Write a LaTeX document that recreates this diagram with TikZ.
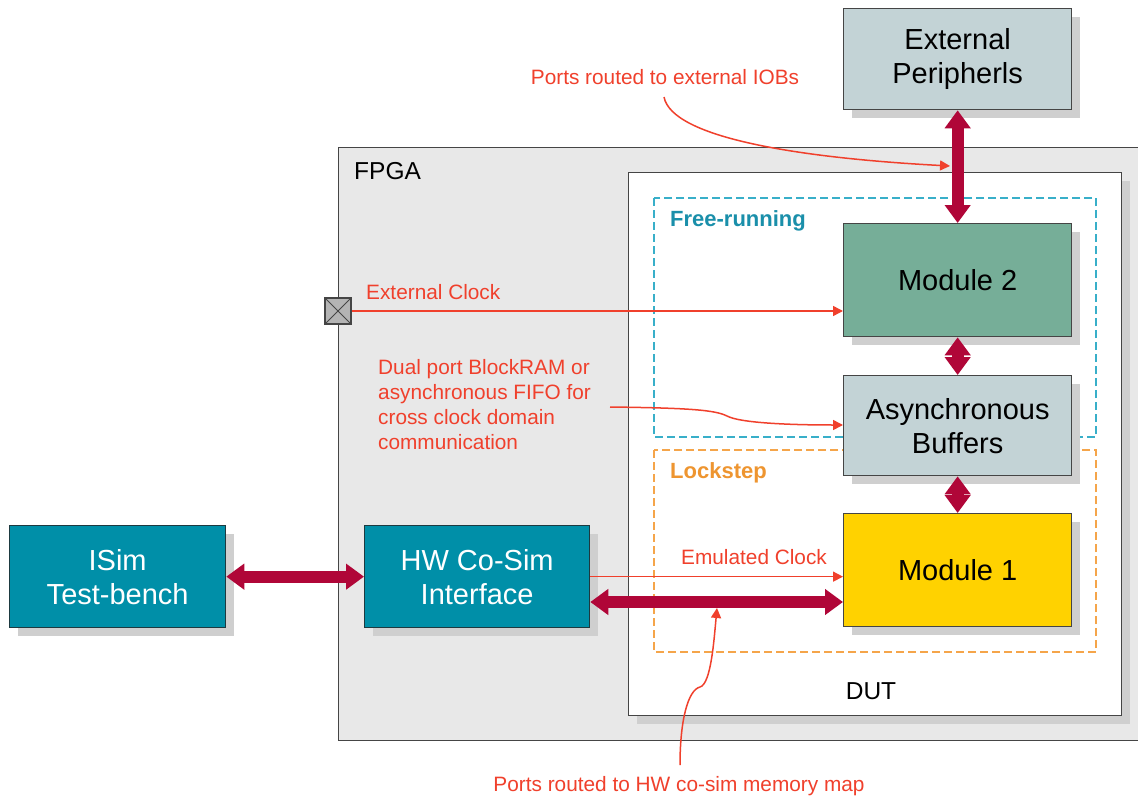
\documentclass[tikz,border=0pt]{standalone}
\usepackage{fontspec}
\setmainfont{Liberation Sans}
\usetikzlibrary{arrows.meta,shadows}
\definecolor{fpgafill}{HTML}{E8E8E8}
\definecolor{frame}{HTML}{454545}
\definecolor{shadowc}{HTML}{CFCFCF}
\definecolor{greyblue}{HTML}{C3D3D6}
\definecolor{modgreen}{HTML}{76AE98}
\definecolor{modyellow}{HTML}{FFD200}
\definecolor{teal}{HTML}{008FA8}
\definecolor{tealdark}{HTML}{1D3A40}
\definecolor{cyandash}{HTML}{38AFC9}
\definecolor{cyantext}{HTML}{1A8FAA}
\definecolor{orangedash}{HTML}{F5A54A}
\definecolor{orangetext}{HTML}{EE9530}
\definecolor{busc}{HTML}{B00638}
\definecolor{redc}{HTML}{F0402C}
\definecolor{portfill}{HTML}{B4B4B4}
\begin{document}
\begin{tikzpicture}[x=1pt,y=-1pt,
  shad/.style={drop shadow={shadow xshift=8pt,shadow yshift=-8pt,opacity=1,fill=shadowc}},
  blk/.style={draw=frame,line width=1.3pt,inner sep=0pt,align=center,
    font=\fontsize{29}{34}\selectfont,anchor=north west,shad},
  lightblk/.style={blk,fill=greyblue,text=black},
  tealblk/.style={blk,fill=teal,draw=tealdark,text=white},
  region/.style={line width=1.3pt,draw=frame,inner sep=0pt,anchor=north west},
  dashbox/.style={line width=1.4pt,dash pattern=on 8pt off 4pt},
  bigtxt/.style={font=\fontsize{24.5}{28}\selectfont,inner sep=0pt},
  grouptxt/.style={font=\bfseries\fontsize{22}{26}\selectfont,inner sep=0pt,anchor=west},
  redtxt/.style={text=redc,font=\fontsize{20.8}{25}\selectfont,inner sep=0pt,align=left},
  bus/.style={draw=busc,line width=12pt,{Triangle[length=18pt,width=25pt]}-{Triangle[length=18pt,width=25pt]}},
  redarr/.style={draw=redc,line width=1.5pt,-{Triangle[length=10pt,width=10pt]}}
]
\useasboundingbox (0,0) rectangle (1138,797);
\clip (0,0) rectangle (1138,797);
\fill[white] (0,0) rectangle (1138,797);

% FPGA region
\node[region,fill=fpgafill,minimum width=820pt,minimum height=593pt] (fpga) at (338,147) {};
\node[bigtxt,anchor=west] (fpgalbl) at (354,171) {FPGA};

% DUT region
\node[region,fill=white,minimum width=493pt,minimum height=543pt,shad] (dut) at (628,172) {};
\node[bigtxt] (dutlbl) at (871,691) {DUT};

% dashed groups
\draw[dashbox,draw=cyandash] (654,198) rectangle (1096,437);
\node[grouptxt,text=cyantext] (freelbl) at (670,221) {Free-running};
\draw[dashbox,draw=orangedash] (654,450) rectangle (1096,652);
\node[grouptxt,text=orangetext] (locklbl) at (670,473) {Lockstep};

% blocks
\node[lightblk,minimum width=228pt,minimum height=101pt] (ext) at (843,8) {External\\Peripherls};
\node[blk,fill=modgreen,minimum width=228pt,minimum height=113pt] (mod2) at (843,223) {Module 2};
\node[lightblk,minimum width=228pt,minimum height=100pt] (async) at (843,375) {Asynchronous\\Buffers};
\node[blk,fill=modyellow,minimum width=228pt,minimum height=113pt] (mod1) at (843,513) {Module 1};
\node[tealblk,minimum width=216pt,minimum height=102pt] (isim) at (9,525) {ISim\\Test-bench};
\node[tealblk,minimum width=225pt,minimum height=102pt] (hw) at (364,525) {HW Co-Sim\\Interface};

% port pad
\node[draw=frame,fill=portfill,line width=1.2pt,minimum size=26pt,inner sep=0pt] (port) at (338,311) {};
\draw[frame,line width=1pt] (port.north west) -- (port.south east) (port.north east) -- (port.south west);

% thick buses
\draw[bus] (ext.south) -- (mod2.north);
\draw[bus] (mod2.south) -- (async.north);
\draw[bus] (async.south) -- (mod1.north);
\draw[bus] (isim.east) -- (hw.west);
\coordinate (busmid) at (718,602);
\draw[bus] (hw.east |- busmid) -- (mod1.west |- busmid);

% clocks
\draw[redarr] (port.east) -- (mod2.west |- port.east);
\node[redtxt,anchor=west] (extclk) at (366,292) {External Clock};
\draw[redarr] (hw.east) -- (mod1.west |- hw.east);
\node[redtxt,anchor=west] (emuclk) at (681,557) {Emulated Clock};

% annotations
\node[redtxt] (iobs) at (665,77) {Ports routed to external IOBs};
\coordinate (iobsstart) at (664,97);
\coordinate (iobstip) at (950,166);
\draw[redarr] (iobsstart) .. controls (672,138) and (800,158) .. (iobstip);

\node[redtxt,anchor=north west] (dual) at (378,359) {Dual port BlockRAM or\\asynchronous FIFO for\\cross clock domain\\communication};
\coordinate (dualstart) at (610,407);
\draw[redarr] (dualstart) .. controls (690,408) and (715,410) .. (727,416)
  .. controls (740,423) and (790,425) .. (async.west |- 0,425);

\node[redtxt] (mem) at (679,786) {Ports routed to HW co-sim memory map};
\coordinate (memstart) at (680,765);
\coordinate (memtip) at (717,608);
\draw[redarr] (memstart) .. controls (680,720) and (688,690) .. (700,687)
  .. controls (711,684) and (714,640) .. (memtip);
\end{tikzpicture}
\end{document}
